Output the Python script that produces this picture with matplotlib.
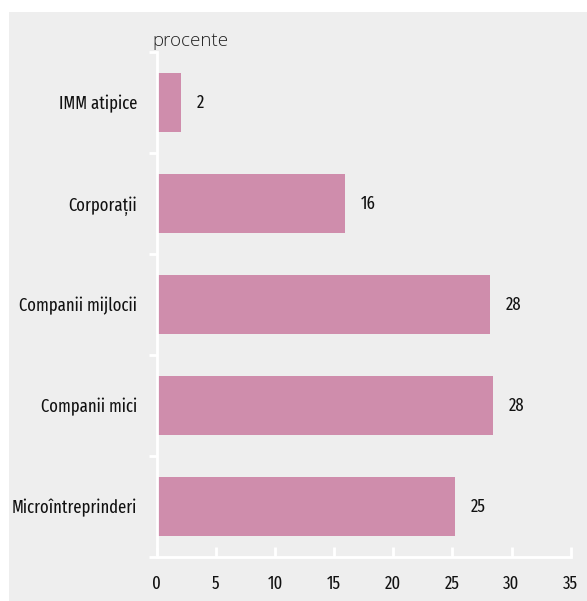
import matplotlib
matplotlib.use("Agg")
import matplotlib.pyplot as plt
from matplotlib.patches import Rectangle

categories = ["Microîntreprinderi", "Companii mici", "Companii mijlocii", "Corporații", "IMM atipice"]
values = [25.2, 28.45, 28.2, 15.9, 2.05]
labels = ["25", "28", "28", "16", "2"]
xticks = [0, 5, 10, 15, 20, 25, 30, 35]

BG = "#eeeeee"
BAR = "#cf8dac"
NARROW = ["Fira Sans Extra Condensed", "Fira Sans Condensed", "DejaVu Sans"]
FS = 13

fig = plt.figure(figsize=(5.87, 6.01), dpi=100)
fig.patch.set_facecolor("white")
fig.patches.append(Rectangle((9 / 587, 0), 1 - 9 / 587, 1 - 12 / 601,
                             transform=fig.transFigure, facecolor=BG,
                             edgecolor="none", zorder=-10))

ax = fig.add_axes([156.7 / 587, 1 - 557 / 601, 414 / 587, 505 / 601])
ax.set_facecolor(BG)

ypos = list(range(len(categories)))
ax.barh(ypos, values, height=0.58, color=BAR, zorder=2)
for y, v, t in zip(ypos, values, labels):
    ax.text(v + 1.35, y, t, va="center", ha="left", fontsize=FS,
            family=NARROW, color="#111111")

ax.set_xlim(0, 35)
ax.set_ylim(-0.5, len(categories) - 0.5)
ax.set_xticks(xticks)
ax.set_xticklabels([str(x) for x in xticks], family=NARROW, fontsize=FS)
ax.set_yticks([i - 0.5 for i in range(len(categories) + 1)])
ax.set_yticklabels([])
ax.set_yticks(ypos, minor=True)
ax.set_yticklabels(categories, minor=True, family=NARROW, fontsize=FS)

for s in ["top", "right"]:
    ax.spines[s].set_visible(False)
for s in ["left", "bottom"]:
    ax.spines[s].set_color("white")
    ax.spines[s].set_linewidth(2)

ax.tick_params(axis="x", direction="in", length=7, width=2, color="white",
               pad=13, labelcolor="#111111")
ax.tick_params(axis="y", which="major", direction="out", length=6, width=2,
               color="white")
ax.tick_params(axis="y", which="minor", length=0, pad=14, labelcolor="#111111")

fig.text(152 / 587, 1 - 41 / 601, "procente", fontsize=13.5,
         family=["Open Sans", "DejaVu Sans"], fontweight="light",
         color="#222222", va="center", ha="left")

fig.savefig("out.png", dpi=100, facecolor=fig.get_facecolor())
